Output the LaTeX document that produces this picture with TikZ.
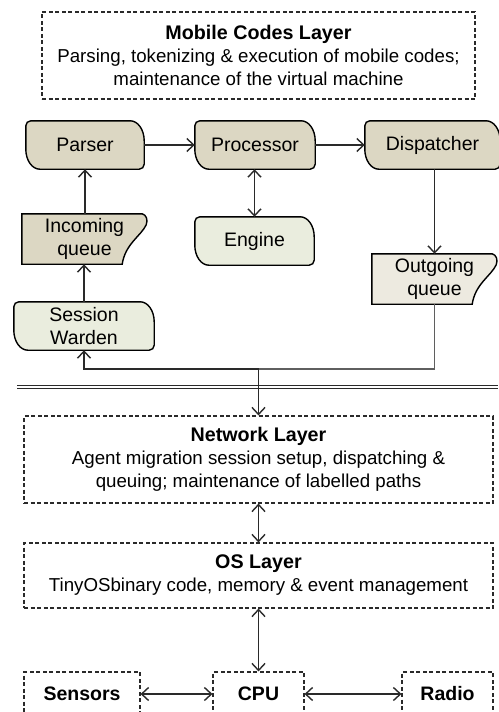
\documentclass[tikz,border=0pt]{standalone}
\usepackage{fontspec}
\setmainfont{Liberation Sans}
\usetikzlibrary{arrows.meta,backgrounds,calc}
\definecolor{tanfill}{HTML}{DCD7C3}
\definecolor{palefill}{HTML}{EAEDDE}
\definecolor{beigefill}{HTML}{EDEAE0}
\definecolor{ln}{HTML}{2A2A2A}
\newcommand\ttlfont{\bfseries\fontsize{19.7}{23}\selectfont}
\tikzset{
  txt/.style={font=\fontsize{19.5}{23}\selectfont},
  blk/.style={inner sep=0pt, align=center, txt},
  layer/.style={draw=ln, line width=1.1pt, dash pattern=on 4pt off 2.5pt, inner sep=0pt, align=center, font=\fontsize{18.7}{23}\selectfont},
  hw/.style={draw=ln, line width=1.1pt, dash pattern=on 4pt off 2.5pt, inner sep=0pt, align=center, font=\bfseries\fontsize{19.5}{23}\selectfont},
  conn/.style={draw=ln, line width=1.5pt},
  arr/.style={conn, -{Straight Barb[length=7pt,width=13pt,line width=1.4pt]}},
  arrb/.style={conn, {Straight Barb[length=7pt,width=13pt,line width=1.4pt]}-{Straight Barb[length=7pt,width=13pt,line width=1.4pt]}},
  shp/.style={draw=black, line width=1.4pt}
}
\newcommand\leafpath[2]{%
  \path[shp, fill=#2] let \p1=(#1.north west), \p2=(#1.south east) in
   (\x1+5pt,\y1) -- (\x2-14pt,\y1) arc[start angle=90,end angle=0,x radius=14pt,y radius=20pt]
   -- (\x2,\y2+5pt) arc[start angle=0,end angle=-90,radius=5pt]
   -- (\x1+14pt,\y2) arc[start angle=270,end angle=180,x radius=14pt,y radius=20pt]
   -- (\x1,\y1-5pt) arc[start angle=180,end angle=90,radius=5pt] -- cycle;}
\newcommand\queuepath[2]{%
  \path[shp, fill=#2] let \p1=(#1.north west), \p2=(#1.south east) in
   (\x1,\y1) -- (\x2-5pt,\y1) .. controls (\x2-1pt,\y1-1pt) and (\x2+1pt,\y1-6pt) .. (\x2-1pt,\y1-11pt)
   .. controls (\x2-6pt,\y1-22pt) and (\x2-22pt,\y1-30pt) .. (\x2-25pt,\y2) -- (\x1,\y2) -- cycle;}
\begin{document}
\begin{tikzpicture}[x=1pt,y=1pt]
\useasboundingbox (0,0) rectangle (498,-712);
\clip (0,0) rectangle (498,-712);
% layers
\node[layer, minimum width=433pt, minimum height=87pt] (mob) at (258.5,-55.5)
  {{\ttlfont Mobile Codes Layer}\\Parsing, tokenizing \& execution of mobile codes;\\maintenance of the virtual machine};
\node[layer, minimum width=469pt, minimum height=87pt] (net) at (258.5,-459.5)
  {{\ttlfont Network Layer}\\Agent migration session setup, dispatching \&\\queuing; maintenance of labelled paths};
\node[layer, minimum width=469pt, minimum height=65pt] (os) at (258.5,-575.5)
  {{\ttlfont OS Layer}\\TinyOSbinary code, memory \& event management};
% blocks
\node[blk, minimum width=118pt, minimum height=48pt] (parser) at (85,-145) {Parser};
\node[blk, minimum width=120pt, minimum height=48pt] (proc) at (255,-145) {Processor};
\node[blk, minimum width=135pt, minimum height=48pt] (disp) at (432.5,-145) {Dispatcher};
\node[blk, minimum width=119pt, minimum height=48pt] (engine) at (254.5,-241) {Engine};
\node[blk, minimum width=140pt, minimum height=48pt] (warden) at (84,-326) {Session\\Warden};
\node[blk, minimum width=125pt, minimum height=50pt, text width=100pt] (inq) at (84.5,-239) {Incoming\\queue};
\node[blk, minimum width=125pt, minimum height=50pt, text width=100pt] (outq) at (434.5,-279) {Outgoing\\queue};
% hardware
\node[hw, minimum width=116pt, minimum height=44pt] (sens) at (82,-694) {Sensors};
\node[hw, minimum width=91pt, minimum height=44pt] (cpu) at (258.5,-694) {CPU};
\node[hw, minimum width=91pt, minimum height=44pt] (radio) at (447.5,-694) {Radio};
% shapes behind text
\begin{scope}[on background layer]
\leafpath{parser}{tanfill}
\leafpath{proc}{tanfill}
\leafpath{disp}{tanfill}
\leafpath{engine}{palefill}
\leafpath{warden}{palefill}
\queuepath{inq}{tanfill}
\queuepath{outq}{beigefill}
\end{scope}
% connectors
\draw[arr] (parser) -- (proc);
\draw[arr] (proc) -- (disp);
\draw[arr] (inq.north -| parser) -- (parser.south);
\draw[arr] (warden.north) -- (warden.north |- inq.south);
\draw[arrb] (proc.south -| engine) -- (engine.north);
\draw[arr] (disp.south -| outq) -- (outq.north);
\coordinate (j) at (258.5,-369);
\coordinate (dl) at (17,-386.8);
\coordinate (dr) at (498,-386.8);
\draw[conn, draw=ln!75] (outq.south) |- (j);
\draw[arr] (j) -| (warden.south);
\draw[draw=ln, line width=1.3pt, double=white, double distance=1.8pt] (dl) -- (dr);
\draw[arr] (j) -- (net.north);
\draw[arrb] (net) -- (os);
\draw[arrb] (os) -- (cpu);
\draw[arrb] (sens) -- (cpu);
\draw[arrb] (cpu) -- (radio);
\end{tikzpicture}
\end{document}
